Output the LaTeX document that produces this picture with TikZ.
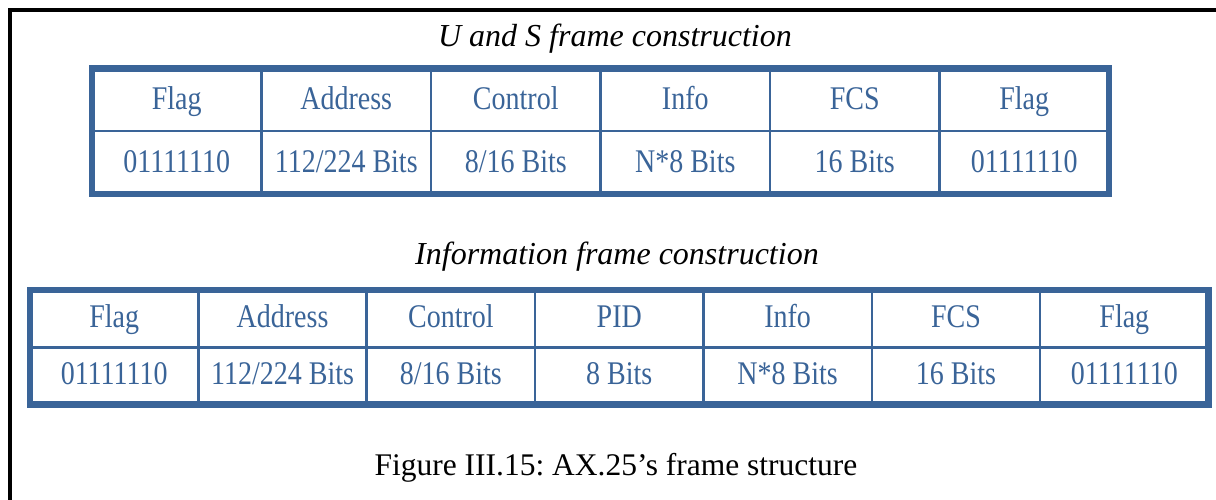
\documentclass[tikz,border=0pt]{standalone}
\usepackage{graphicx}
\usepackage{fontspec}
\setmainfont{Liberation Serif}
\frenchspacing
\definecolor{tblue}{RGB}{58,100,152}
\newcommand\cellstretch[1]{\scalebox{1}[1.18]{#1}}

\begin{document}
\begin{tikzpicture}[x=1pt,y=-1pt, heading/.style={anchor=base,font=\itshape\fontsize{32}{36}\selectfont}, cell/.style={anchor=base,text=tblue,inner sep=0pt,font=\fontsize{28}{30}\selectfont}, outerline/.style={draw=tblue,line width=6.5pt}, innerline/.style={draw=tblue,line width=2.5pt}]
\useasboundingbox (0,0) rectangle (1216,500);
\draw[line width=4pt] (10,500) -- (10,10) -- (1216,10);
\node[heading] (ustitle) at (615,46.7) {U and S frame construction};
% U and S frame table
\foreach [count=\i] \h/\d in {Flag/01111110, Address/{112/224 Bits}, Control/{8/16 Bits}, Info/{N*8 Bits}, FCS/{16 Bits}, Flag/01111110}
  {\node[cell] (us-h\i) at ({92+169.5*(\i-0.5)},110) {\cellstretch{\h}};
   \node[cell] (us-d\i) at ({92+169.5*(\i-0.5)},172) {\cellstretch{\d}};}
\foreach \i in {1,...,5} \draw[innerline] ({92+169.5*\i},68.5) -- ({92+169.5*\i},194);
\draw[innerline] (92,131) -- (1109,131);
\draw[outerline] (92,68.5) rectangle (1109,194);
\node[heading] (infotitle) at (617,264.7) {Information frame construction};
% Information frame table
\foreach [count=\i] \h/\d in {Flag/01111110, Address/{112/224 Bits}, Control/{8/16 Bits}, PID/{8 Bits}, Info/{N*8 Bits}, FCS/{16 Bits}, Flag/01111110}
  {\node[cell] (in-h\i) at ({30+168.36*(\i-0.5)},327) {\cellstretch{\h}};
   \node[cell] (in-d\i) at ({30+168.36*(\i-0.5)},384) {\cellstretch{\d}};}
\foreach \i in {1,...,6} \draw[innerline] ({30+168.36*\i},290) -- ({30+168.36*\i},404.5);
\draw[innerline] (30,347.5) -- (1208.5,347.5);
\draw[outerline] (30,290) rectangle (1208.5,404.5);
\node[anchor=base,font=\fontsize{31.5}{36}\selectfont] (caption) at (616,475.7) {Figure III.15: AX.25’s frame structure};
\end{tikzpicture}
\end{document}
